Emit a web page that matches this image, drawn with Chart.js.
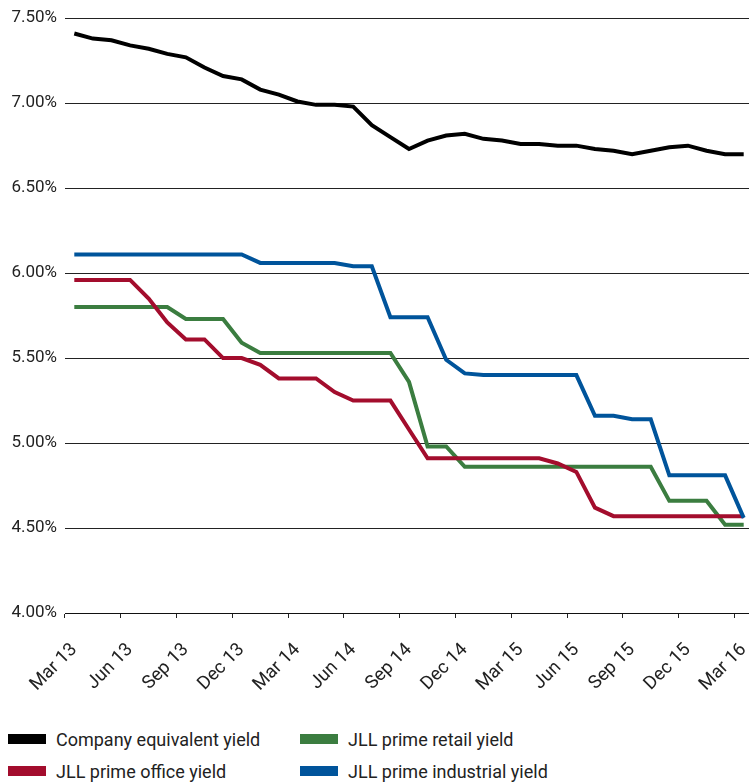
<!DOCTYPE html>
<html>
<head>
<meta charset="utf-8">
<script src="https://cdn.jsdelivr.net/npm/chart.js@4/dist/chart.umd.min.js"></script>
<style>
  html, body { margin: 0; padding: 0; background: #fff; overflow: hidden; width: 749px; height: 783px; }
  #wrap { position: absolute; left: 0; top: 0; width: 753px; height: 705px; }
  #legend {
    position: absolute; left: 8px; top: 729px;
    display: grid; grid-template-columns: 292px 300px; row-gap: 12px;
    font-family: Roboto, "DejaVu Sans", sans-serif; font-size: 18px; color: #222;
  }
  .item { display: flex; align-items: center; height: 20px; white-space: nowrap; }
  .swatch { width: 38px; height: 10px; margin-right: 10px; }
</style>
</head>
<body>
<div id="wrap"><canvas id="c" width="753" height="705"></canvas></div>
<div id="legend"></div>
<script>
// Monthly observations, March 2013 to March 2016
const months = [
  'Mar 13','Apr 13','May 13','Jun 13','Jul 13','Aug 13','Sep 13','Oct 13','Nov 13','Dec 13',
  'Jan 14','Feb 14','Mar 14','Apr 14','May 14','Jun 14','Jul 14','Aug 14','Sep 14','Oct 14',
  'Nov 14','Dec 14','Jan 15','Feb 15','Mar 15','Apr 15','May 15','Jun 15','Jul 15','Aug 15',
  'Sep 15','Oct 15','Nov 15','Dec 15','Jan 16','Feb 16','Mar 16'
];

// Yields, %
const companyEquivalent = [
  7.41, 7.38, 7.37, 7.34, 7.32, 7.29, 7.27, 7.21, 7.16, 7.14,
  7.08, 7.05, 7.01, 6.99, 6.99, 6.98, 6.87, 6.80, 6.73, 6.78,
  6.81, 6.82, 6.79, 6.78, 6.76, 6.76, 6.75, 6.75, 6.73, 6.72,
  6.70, 6.72, 6.74, 6.75, 6.72, 6.70, 6.70
];
const primeRetail = [
  5.80, 5.80, 5.80, 5.80, 5.80, 5.80, 5.73, 5.73, 5.73, 5.59,
  5.53, 5.53, 5.53, 5.53, 5.53, 5.53, 5.53, 5.53, 5.36, 4.98,
  4.98, 4.86, 4.86, 4.86, 4.86, 4.86, 4.86, 4.86, 4.86, 4.86,
  4.86, 4.86, 4.66, 4.66, 4.66, 4.52, 4.52
];
const primeOffice = [
  5.96, 5.96, 5.96, 5.96, 5.85, 5.71, 5.61, 5.61, 5.50, 5.50,
  5.46, 5.38, 5.38, 5.38, 5.30, 5.25, 5.25, 5.25, 5.08, 4.91,
  4.91, 4.91, 4.91, 4.91, 4.91, 4.91, 4.88, 4.83, 4.62, 4.57,
  4.57, 4.57, 4.57, 4.57, 4.57, 4.57, 4.57
];
const primeIndustrial = [
  6.11, 6.11, 6.11, 6.11, 6.11, 6.11, 6.11, 6.11, 6.11, 6.11,
  6.06, 6.06, 6.06, 6.06, 6.06, 6.04, 6.04, 5.74, 5.74, 5.74,
  5.49, 5.41, 5.40, 5.40, 5.40, 5.40, 5.40, 5.40, 5.16, 5.16,
  5.14, 5.14, 4.81, 4.81, 4.81, 4.81, 4.56
];

const yTicks = [4.0, 4.5, 5.0, 5.5, 6.0, 6.5, 7.0, 7.5];

const FAMILY = 'Roboto, "DejaVu Sans", sans-serif';
const INK = '#222';

const series = [
  { label: 'Company equivalent yield', data: companyEquivalent, color: '#000000', legendPos: 0 },
  { label: 'JLL prime industrial yield', data: primeIndustrial, color: '#00549b', legendPos: 3 },
  { label: 'JLL prime office yield', data: primeOffice, color: '#a30d2d', legendPos: 2 },
  { label: 'JLL prime retail yield', data: primeRetail, color: '#3b7d40', legendPos: 1 }
];

const chart = new Chart(document.getElementById('c'), {
  type: 'line',
  data: {
    labels: months,
    datasets: series.map(s => ({
      label: s.label,
      data: s.data,
      borderColor: s.color,
      backgroundColor: s.color,
      borderWidth: 4,
      pointRadius: 0,
      tension: 0,
      fill: false
    }))
  },
  options: {
    responsive: false,
    animation: false,
    devicePixelRatio: 1,
    layout: { padding: { top: 8, right: 0, left: 0, bottom: 0 } },
    plugins: { legend: { display: false }, tooltip: { enabled: false } },
    scales: {
      x: {
        type: 'category',
        offset: true,
        grid: {
          offset: true,
          drawOnChartArea: false,
          drawTicks: true,
          tickLength: 5,
          color: ctx => (ctx.index % 3 === 0 ? INK : 'rgba(0,0,0,0)')
        },
        border: { display: true, color: '#111', width: 1 },
        ticks: {
          autoSkip: false,
          minRotation: 45,
          maxRotation: 45,
          padding: 21,
          color: INK,
          font: { family: FAMILY, size: 18.5 },
          callback: (v, i) => (i % 3 === 0 ? months[i] : '')
        },
        afterFit: s => { s.height = 92; s.paddingLeft = 0; s.paddingRight = 0; }
      },
      y: {
        min: 4,
        max: 7.5,
        afterBuildTicks: s => { s.ticks = yTicks.map(v => ({ value: v })); },
        grid: { color: INK, lineWidth: 1, drawTicks: false },
        border: { display: false },
        ticks: {
          padding: 8,
          color: INK,
          font: { family: FAMILY, size: 17 },
          callback: v => Number(v).toFixed(2) + '%'
        },
        afterFit: s => { s.width = 65; }
      }
    }
  }
});

// Legend in two columns, built from the chart's own datasets
const legend = document.getElementById('legend');
const cells = [];
chart.data.datasets.forEach((ds, i) => {
  const el = document.createElement('div');
  el.className = 'item';
  el.innerHTML = '<span class="swatch" style="background:' + ds.borderColor + '"></span><span>' + ds.label + '</span>';
  cells[series[i].legendPos] = el;
});
cells.forEach(el => legend.appendChild(el));
</script>
</body>
</html>
